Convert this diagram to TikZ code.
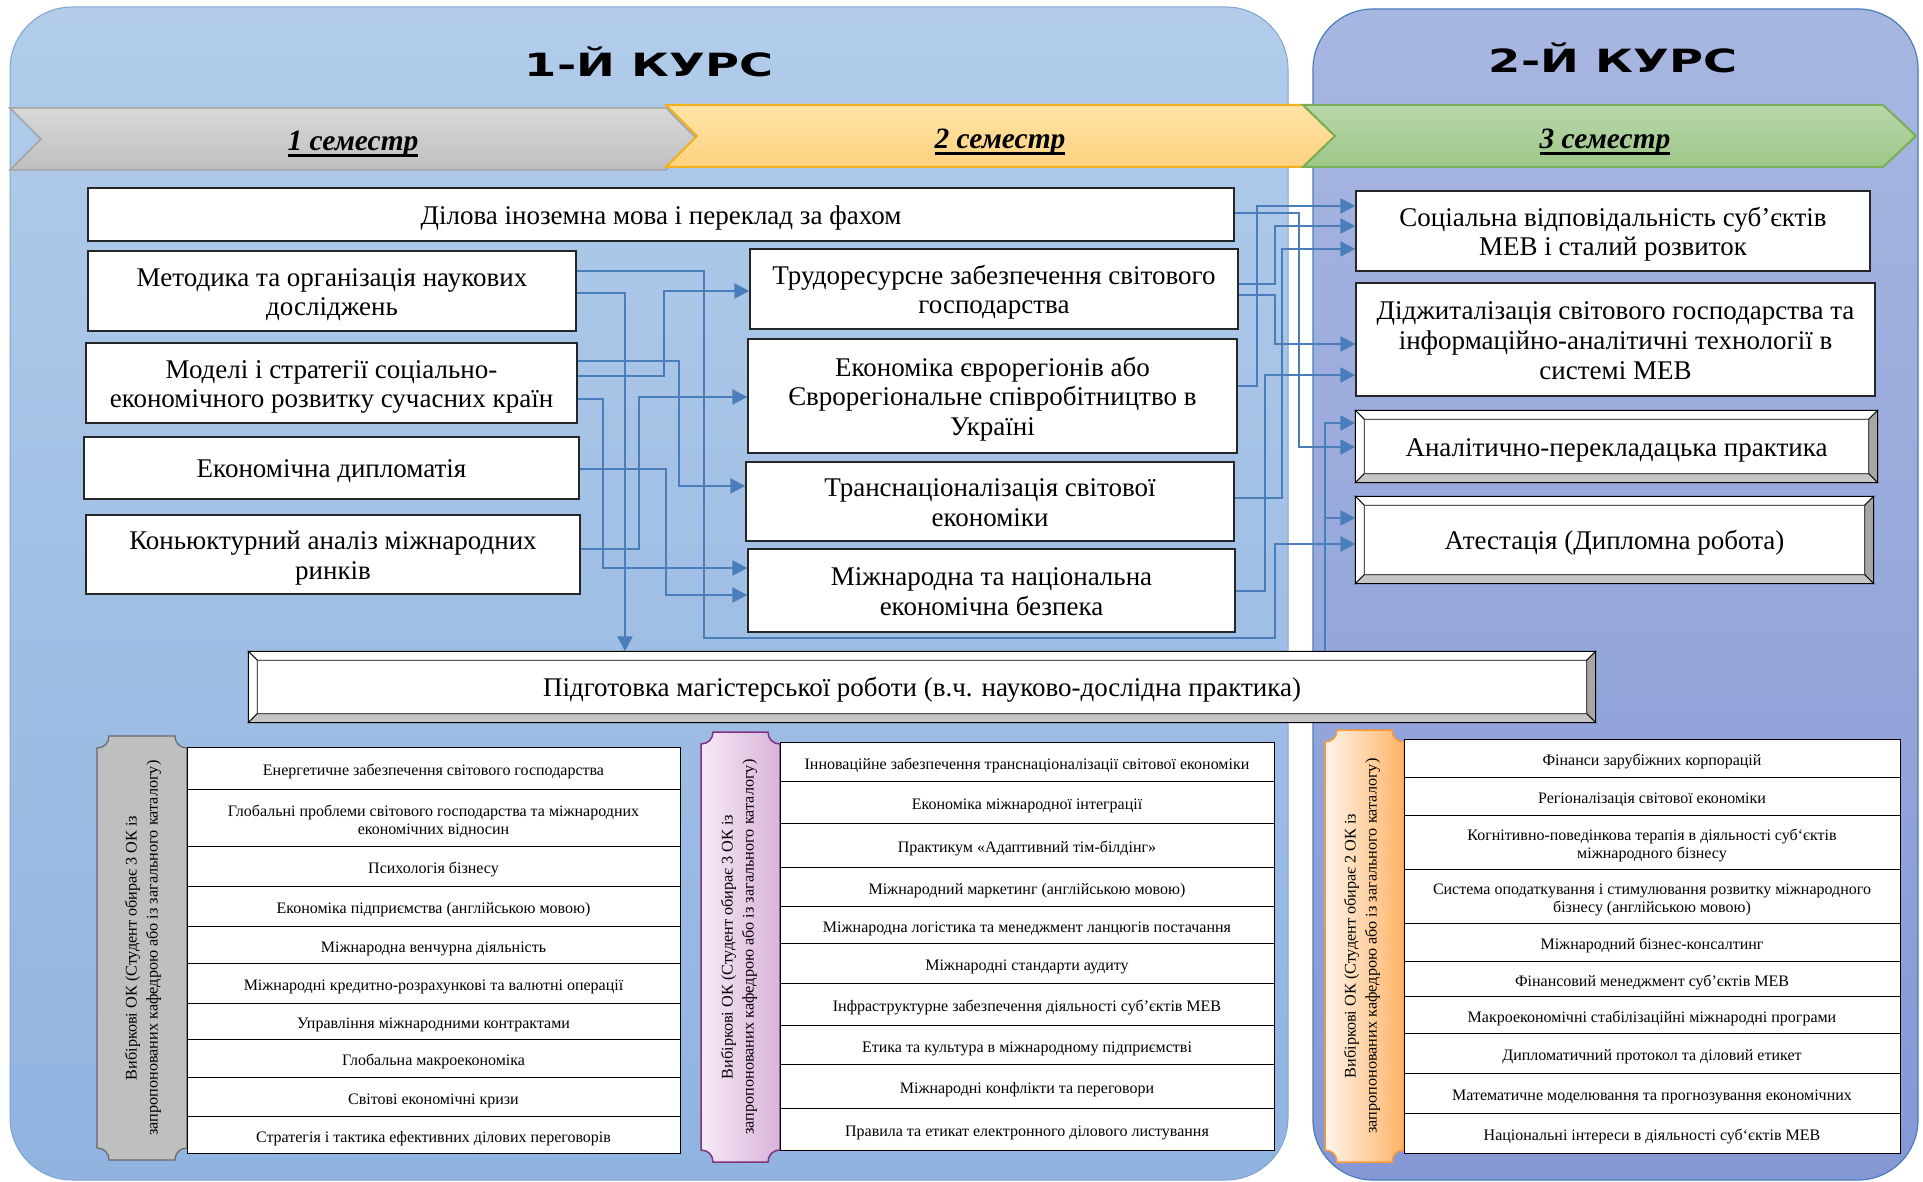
\documentclass[tikz,border=0pt]{standalone}
\usepackage{fontspec}
\setmainfont{Liberation Serif}
\newfontfamily\kursfont{DejaVu Sans}
\usepackage{graphicx}
\usetikzlibrary{arrows.meta}
\definecolor{linkblue}{HTML}{4A7EBB}
\definecolor{panelA}{HTML}{B2CCEA}
\definecolor{panelB}{HTML}{90B3E0}
\definecolor{panelC}{HTML}{A8B7E1}
\definecolor{panelD}{HTML}{8598D5}
\definecolor{semYtop}{HTML}{FFE3A6}
\definecolor{semYbot}{HTML}{FFD27F}
\definecolor{semYline}{HTML}{F2B01E}
\definecolor{semGtop}{HTML}{B8D7AA}
\definecolor{semGbot}{HTML}{9DC788}
\definecolor{semGline}{HTML}{78AE55}
\newcommand{\semul}[1]{\setbox0\hbox{#1}\rlap{\vrule width\wd0 height -4pt depth 6.6pt}\box0}
\newcommand{\lowtext}[1]{\raisebox{-4pt}[\height][\depth]{\begin{tabular}{@{}c@{}}#1\end{tabular}}}
\newcommand{\plaque}[5]{%
  \path[#5] (#1+12,#2) -- (#3-12,#2) .. controls (#3-12,#2+7) and (#3-7,#2+12) .. (#3,#2+12)
    -- (#3,#4-12) .. controls (#3-7,#4-12) and (#3-12,#4-7) .. (#3-12,#4)
    -- (#1+12,#4) .. controls (#1+12,#4-7) and (#1+7,#4-12) .. (#1,#4-12)
    -- (#1,#2+12) .. controls (#1+7,#2+12) and (#1+12,#2+7) .. (#1+12,#2) -- cycle;}

\begin{document}
\begin{tikzpicture}[x=1pt,y=-1pt,
  box/.style={draw=black!85, line width=1.4, fill=white, inner sep=0pt,
    font=\fontsize{27}{29.8}\selectfont},
  cell/.style={draw=black, line width=1, fill=white, inner sep=0pt,
    font=\fontsize{16}{18}\selectfont},
  link/.style={draw=linkblue, line width=2.4, -{Triangle[length=15pt,width=15pt]}},
  semlabel/.style={font=\fontsize{29.5}{29.5}\selectfont\bfseries\itshape},
  kurs/.style={font=\kursfont\bfseries\fontsize{32}{32}\selectfont},
  plaquetext/.style={align=center, rotate=90, font=\fontsize{16.2}{21}\selectfont}]
\path[use as bounding box, fill=white] (0,0) rectangle (1923,1182);

\draw[rounded corners=62, top color=panelA, bottom color=panelB, draw=linkblue!70, line width=1] (10,7) rectangle (1288,1180);
\draw[rounded corners=60, top color=panelC, bottom color=panelD, draw=linkblue, line width=1.2] (1313,9) rectangle (1918,1180);

\node[kurs] (kurs1) at (649,62) {\scalebox{1.45}[1]{1-Й КУРС}};
\node[kurs] (kurs2) at (1613,58) {\scalebox{1.45}[1]{2-Й КУРС}};

\draw[top color=gray!30, bottom color=gray!50, draw=gray!70, line width=1.5] (10,108) -- (666,108) -- (697,139) -- (666,170) -- (10,170) -- (41,139) -- cycle;
\draw[top color=semYtop, bottom color=semYbot, draw=semYline, line width=2] (666,105) -- (1303,105) -- (1335,136) -- (1303,167) -- (666,167) -- (697,136) -- cycle;
\draw[top color=semGtop, bottom color=semGbot, draw=semGline, line width=2] (1303,105) -- (1883,105) -- (1916,136) -- (1883,167) -- (1303,167) -- (1335,136) -- cycle;
\node[semlabel] (sem1) at (353,144) {\semul{1 семестр}};
\node[semlabel] (sem2) at (1000,142) {\semul{2 семестр}};
\node[semlabel] (sem3) at (1605,142) {\semul{3 семестр}};

\node[box, minimum width=1146, minimum height=53] (dilova) at (661,214.5) {\lowtext{Ділова іноземна мова і переклад за фахом}};
\node[box, minimum width=488, minimum height=80] (metod) at (332,291) {\lowtext{Методика та організація наукових\\досліджень}};
\node[box, minimum width=491, minimum height=80] (modeli) at (331.5,383) {\lowtext{Моделі і стратегії соціально-\\економічного розвитку сучасних країн}};
\node[box, minimum width=495, minimum height=62] (dipl) at (331.5,468) {\lowtext{Економічна дипломатія}};
\node[box, minimum width=494, minimum height=79] (konj) at (333,554.5) {\lowtext{Коньюктурний аналіз міжнародних\\ринків}};
\node[box, minimum width=488, minimum height=80] (trudo) at (994,289) {\lowtext{Трудоресурсне забезпечення світового\\господарства}};
\node[box, minimum width=489, minimum height=114] (evro) at (992.5,396) {\lowtext{Економіка єврорегіонів або\\Єврорегіональне співробітництво в\\Україні}};
\node[box, minimum width=488, minimum height=79] (trans) at (990,501.5) {\lowtext{Транснаціоналізація світової\\економіки}};
\node[box, minimum width=487, minimum height=83] (mizh) at (991.5,590.5) {\lowtext{Міжнародна та національна\\економічна безпека}};
\node[box, minimum width=514, minimum height=80] (soc) at (1613,231) {\lowtext{Соціальна відповідальність суб’єктів\\МЕВ і сталий розвиток}};
\node[box, minimum width=519, minimum height=113] (didzh) at (1615.5,339.5) {\lowtext{Діджиталізація світового господарства та\\інформаційно-аналітичні технології в\\системі МЕВ}};
\node[box, minimum width=521, minimum height=71] (analit) at (1616.5,446.5) {\lowtext{Аналітично-перекладацька практика}};
\node[box, minimum width=517, minimum height=86] (atest) at (1614.5,540) {\lowtext{Атестація (Дипломна робота)}};
\node[box, minimum width=1346, minimum height=70] (pidg) at (922,687) {\lowtext{Підготовка магістерської роботи (в.ч. науково-дослідна практика)}};
\foreach \n in {analit,atest,pidg}{
  \filldraw[fill=white, draw=black, line width=.8] (\n.north west) -- (\n.north east) -- ([shift={(-9,9)}]\n.north east) -- ([shift={(9,9)}]\n.north west) -- cycle;
  \filldraw[fill=white, draw=black, line width=.8] (\n.north west) -- ([shift={(9,9)}]\n.north west) -- ([shift={(9,-9)}]\n.south west) -- (\n.south west) -- cycle;
  \filldraw[fill=gray!70, draw=black, line width=.8] (\n.north east) -- (\n.south east) -- ([shift={(-9,-9)}]\n.south east) -- ([shift={(-9,9)}]\n.north east) -- cycle;
  \filldraw[fill=gray!45, draw=black, line width=.8] (\n.south west) -- (\n.south east) -- ([shift={(-9,-9)}]\n.south east) -- ([shift={(9,-9)}]\n.south west) -- cycle;
  \draw[black, line width=1.4] (\n.north west) rectangle (\n.south east);
}

\draw[link] ([yshift=20]metod.east) -- ++(127,0) |- (1275,638) |- ([yshift=-4]atest.west);
\draw[link] ([yshift=-2]metod.east) -| ([xshift=-297]pidg.north);
\draw[link] ([yshift=7]modeli.east) -- ++(86,0) |- ([yshift=-2]trudo.west);
\draw[link] ([yshift=22]modeli.east) -- ++(101,0) |- ([yshift=15.5]trans.west);
\draw[link] ([yshift=-16]modeli.east) -- ++(25,0) |- ([yshift=22.5]mizh.west);
\draw[link] ([yshift=-1]dipl.east) -- ++(86,0) |- ([yshift=-4.5]mizh.west);
\draw[link] ([yshift=5.5]konj.east) -- ++(58,0) |- ([yshift=-1]evro.west);
\draw[link] ([yshift=1.5]dilova.east) -- ++(64,0) |- ([yshift=-0.5]analit.west);
\draw[link] ([yshift=10]evro.east) -- ++(19,0) |- ([yshift=25]soc.west);
\draw[link] ([yshift=5]trudo.east) -- ++(36,0) |- ([yshift=5]soc.west);
\draw[link] ([yshift=3.5]trans.east) -- ++(47,0) |- ([yshift=-18]soc.west);
\draw[link] ([yshift=-6]trudo.east) -- ++(36,0) |- ([yshift=-4.5]didzh.west);
\draw[link] ([yshift=-0.5]mizh.east) -- ++(29,0) |- ([yshift=-35.5]didzh.west);
\draw[link] ([xshift=403]pidg.north) |- ([yshift=23.5]analit.west);
\draw[link] ([xshift=403]pidg.north) |- ([yshift=22]atest.west);

\plaque{97}{736}{187}{1160}{draw=black!60, line width=1.2, fill=gray!50}
\plaque{701}{732}{780}{1162}{draw=violet!60!gray, line width=1.5, left color=violet!8, right color=violet!30}
\plaque{1325}{730}{1404}{1162}{draw=orange!80, line width=1.5, left color=orange!8, right color=orange!60}
\node[plaquetext] (plaqL) at (143,948) {Вибіркові ОК (Студент обирає 3 ОК із\\запропонованих кафедрою або із загального каталогу)};
\node[plaquetext] (plaqM) at (739,947) {Вибіркові ОК (Студент обирає 3 ОК із\\запропонованих кафедрою або із загального каталогу)};
\node[plaquetext] (plaqR) at (1362,946) {Вибіркові ОК (Студент обирає 2 ОК із\\запропонованих кафедрою або із загального каталогу)};

\foreach \t/\b/\txt [count=\i] in {747/789/{Енергетичне забезпечення світового господарства},
  789/846/{Глобальні проблеми світового господарства та міжнародних\\економічних відносин},
  846/886/{Психологія бізнесу}, 886/926/{Економіка підприємства (англійською мовою)},
  926/963/{Міжнародна венчурна діяльність}, 963/1003/{Міжнародні кредитно-розрахункові та валютні операції},
  1003/1039/{Управління міжнародними контрактами}, 1039/1077/{Глобальна макроекономіка},
  1077/1116/{Світові економічні кризи}, 1116/1153/{Стратегія і тактика ефективних ділових переговорів}}
  \node[cell, minimum width=493, minimum height=\b-\t] (lcell\i) at (433.5,{(\t+\b)/2}) {\lowtext{\txt}};
\foreach \t/\b/\txt [count=\i] in {742/781/{Інноваційне забезпечення транснаціоналізації світової економіки},
  781/823/{Економіка міжнародної інтеграції}, 823/867/{Практикум «Адаптивний тім-білдінг»},
  867/906/{Міжнародний маркетинг (англійською мовою)}, 906/943/{Міжнародна логістика та менеджмент ланцюгів постачання},
  943/983/{Міжнародні стандарти аудиту}, 983/1025/{Інфраструктурне забезпечення діяльності суб’єктів МЕВ},
  1025/1064/{Етика та культура в міжнародному підприємстві}, 1064/1108/{Міжнародні конфлікти та переговори},
  1108/1150/{Правила та етикат електронного ділового листування}}
  \node[cell, minimum width=494, minimum height=\b-\t] (mcell\i) at (1027,{(\t+\b)/2}) {\lowtext{\txt}};
\foreach \t/\b/\txt [count=\i] in {739/777/{Фінанси зарубіжних корпорацій}, 777/815/{Регіоналізація світової економіки},
  815/869/{Когнітивно-поведінкова терапія в діяльності суб‘єктів\\міжнародного бізнесу},
  869/923/{Система оподаткування і стимулювання розвитку міжнародного\\бізнесу (англійською мовою)},
  923/961/{Міжнародний бізнес-консалтинг}, 961/996/{Фінансовий менеджмент суб’єктів МЕВ},
  996/1033/{Макроекономічні стабілізаційні міжнародні програми}, 1033/1073/{Дипломатичний протокол та діловий етикет},
  1073/1113/{Математичне моделювання та прогнозування економічних}, 1113/1153/{Національні інтереси в діяльності суб‘єктів МЕВ}}
  \node[cell, minimum width=496, minimum height=\b-\t] (rcell\i) at (1652,{(\t+\b)/2}) {\lowtext{\txt}};
\end{tikzpicture}
\end{document}
